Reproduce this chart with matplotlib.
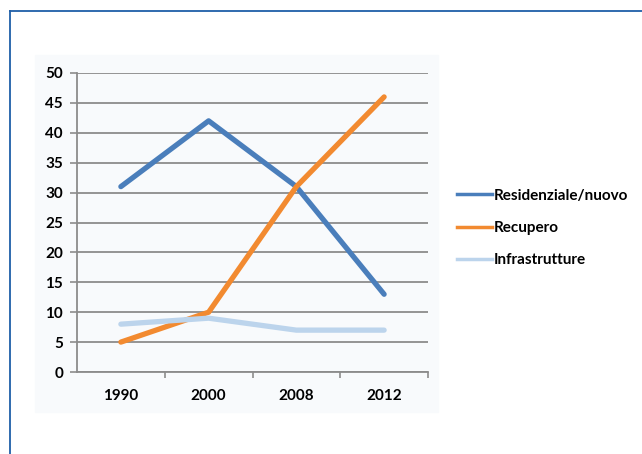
import matplotlib.pyplot as plt
from matplotlib.lines import Line2D
from matplotlib.patches import Rectangle

anni = ['1990', '2000', '2008', '2012']
residenziale = [31, 42, 31, 13]
recupero = [5, 10, 31, 46]
infrastrutture = [8, 9, 7, 7]

serie = [
    ('Residenziale/nuovo', residenziale, '#4a7ebb'),
    ('Recupero', recupero, '#f28a30'),
    ('Infrastrutture', infrastrutture, '#bcd4ec'),
]

plt.rcParams['font.family'] = ['Lato', 'DejaVu Sans']
plt.rcParams['font.weight'] = 'bold'

fig = plt.figure(figsize=(6.42, 4.54), dpi=100)
W, H = 642, 454

# cornice blu in alto e a sinistra
fig.add_artist(Line2D([10 / W, 1], [1 - 11 / H, 1 - 11 / H], color='#1f5fa8', lw=1.3))
fig.add_artist(Line2D([10 / W, 10 / W], [0, 1 - 11 / H], color='#1f5fa8', lw=1.3))

# fondo chiaro dell'area del grafico
fig.add_artist(Rectangle((35 / W, 1 - 412 / H), (438 - 35) / W, (412 - 55) / H,
                         transform=fig.transFigure, color='#f8fafc', zorder=0))

ax = fig.add_axes([77 / W, 1 - 372 / H, (428 - 77) / W, (372 - 73) / H])
ax.set_facecolor('none')

x = range(len(anni))
for nome, valori, colore in serie:
    ax.plot(x, valori, color=colore, lw=3.8, solid_capstyle='round',
            solid_joinstyle='round', label=nome, zorder=3)

ax.set_xlim(-0.5, len(anni) - 0.5)
ax.set_ylim(0, 50)
ax.set_yticks(range(0, 51, 5))
ax.set_xticks(list(x))
ax.set_xticklabels(anni)
ax.set_xticks([i + 0.5 for i in range(len(anni))], minor=True)
ax.tick_params(axis='x', which='major', length=0, pad=12, labelsize=11)
ax.tick_params(axis='x', which='minor', length=4, width=1.2, color='#8c8c8c')
ax.tick_params(axis='y', length=5, width=1.2, color='#8c8c8c', pad=5, labelsize=11)
ax.grid(axis='y', color='#8c8c8c', lw=1.3, zorder=1)

for lato in ('top', 'right'):
    ax.spines[lato].set_visible(False)
for lato in ('left', 'bottom'):
    ax.spines[lato].set_color('#8c8c8c')
    ax.spines[lato].set_linewidth(1.3)

handles = [Line2D([], [], color=c, lw=2.5) for _, _, c in serie]
fig.legend(handles, [n for n, _, _ in serie], loc='upper left',
           bbox_to_anchor=(443 / W, 1 - 175 / H), frameon=False,
           handlelength=2.3, handletextpad=0.1, labelspacing=1.2, fontsize=11)

fig.savefig('out.png', dpi=100)
